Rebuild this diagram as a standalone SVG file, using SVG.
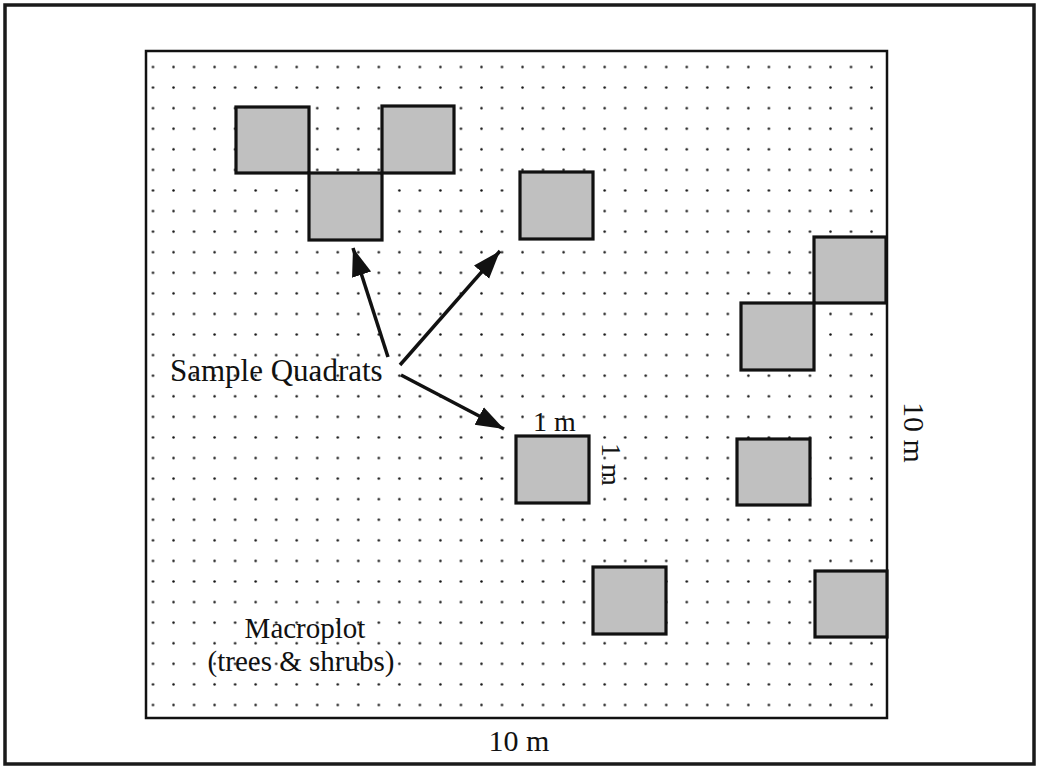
<svg xmlns="http://www.w3.org/2000/svg" width="1037" height="766" viewBox="0 0 1037 766">
<style>
  .frame { fill: #ffffff; stroke: #1a1a1a; stroke-width: 3.5; }
  .plot { stroke: #111; stroke-width: 2.5; }
  .quad { fill: #c0c0c0; stroke: #111; stroke-width: 3.2; }
  .lbl { font-family: "Liberation Serif", "Times New Roman", serif; font-size: 30px; fill: #111; }
  .arrow { stroke: #111; stroke-width: 3.5; fill: none; marker-end: url(#head); }
</style>
<defs>
  <pattern id="dots" patternUnits="userSpaceOnUse" x="142.735" y="56.71" width="20.53" height="20.58">
    <circle cx="10.265" cy="10.29" r="1.25" fill="#111"/>
  </pattern>
  <marker id="head" markerUnits="userSpaceOnUse" markerWidth="32" markerHeight="24" refX="28" refY="10" orient="auto">
    <path d="M0,0 L28,10 L0,20 Z" fill="#111"/>
  </marker>
</defs>
<rect width="1037" height="766" fill="#ffffff"/>
<rect class="frame" x="5" y="5" width="1029" height="759"/>
<g id="macroplot">
  <rect class="plot" x="146" y="51" width="741" height="667" fill="url(#dots)"/>
</g>
<g id="q1"><rect class="quad" x="236" y="107" width="73" height="66"/></g>
<g id="q2"><rect class="quad" x="309" y="173" width="73" height="67"/></g>
<g id="q3"><rect class="quad" x="382" y="106" width="72" height="67"/></g>
<g id="q4"><rect class="quad" x="520" y="172" width="73" height="67"/></g>
<g id="q5"><rect class="quad" x="814" y="237" width="72" height="66"/></g>
<g id="q6"><rect class="quad" x="741" y="303" width="73" height="67"/></g>
<g id="q7"><rect class="quad" x="516" y="436" width="73" height="67"/></g>
<g id="q8"><rect class="quad" x="737" y="439" width="73" height="66"/></g>
<g id="q9"><rect class="quad" x="593" y="567" width="73" height="67"/></g>
<g id="q10"><rect class="quad" x="815" y="571" width="72" height="66"/></g>
<g id="connectors">
  <line class="arrow" x1="388" y1="357" x2="353" y2="248"/>
  <line class="arrow" x1="400" y1="365" x2="500" y2="251"/>
  <line class="arrow" x1="401" y1="375" x2="504" y2="429"/>
</g>
<g id="label-sample"><text class="lbl" x="170" y="381" style="font-size:31px">Sample Quadrats</text></g>
<g id="label-macroplot">
  <text class="lbl" x="305" y="638" text-anchor="middle" style="font-size:29px">Macroplot</text>
  <text class="lbl" x="301" y="671" text-anchor="middle" style="font-size:29px">(trees &amp; shrubs)</text>
</g>
<g id="label-1m-top"><text class="lbl" x="533" y="431" style="font-size:28px">1 m</text></g>
<g id="label-1m-side"><text class="lbl" transform="translate(602,443) rotate(90)" style="font-size:28px">1 m</text></g>
<g id="label-10m-bottom"><text class="lbl" x="519" y="751" text-anchor="middle">10 m</text></g>
<g id="label-10m-right"><text class="lbl" transform="translate(904,402) rotate(90)">10 m</text></g>
</svg>
